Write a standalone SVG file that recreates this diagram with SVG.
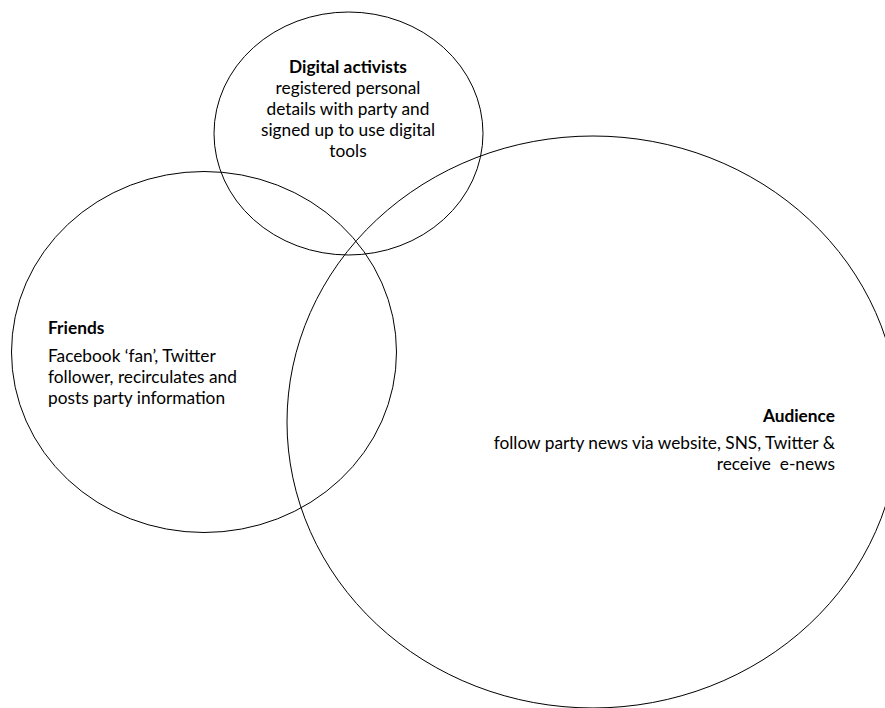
<svg xmlns="http://www.w3.org/2000/svg" width="885" height="708" viewBox="0 0 885 708">
<style>
.ring{fill:none;stroke:#000;stroke-width:1}
.t{font-family:Lato,"Open Sans","Liberation Sans",sans-serif;font-size:17.3px;fill:#000}
.b{font-weight:bold}
</style>
<rect width="885" height="708" fill="#fff"/>
<g id="connectors"></g>
<g id="digital-activists">
<ellipse class="ring" cx="348.5" cy="133.5" rx="134.5" ry="121.5"/>
<text class="t" text-anchor="middle"><tspan class="b" x="348" y="73">Digital activists</tspan><tspan x="348" y="94">registered personal</tspan><tspan x="348" y="115">details with party and</tspan><tspan x="348" y="136">signed up to use digital</tspan><tspan x="348" y="157">tools</tspan></text>
</g>
<g id="friends">
<ellipse class="ring" cx="204" cy="352" rx="192.5" ry="180.5"/>
<text class="t"><tspan class="b" x="48" y="334">Friends</tspan><tspan x="48" y="362">Facebook ‘fan’, Twitter</tspan><tspan x="48" y="383">follower, recirculates and</tspan><tspan x="48" y="404">posts party information</tspan></text>
</g>
<g id="audience">
<ellipse class="ring" cx="593" cy="422" rx="306" ry="286"/>
<text class="t" text-anchor="end"><tspan class="b" x="835" y="422">Audience</tspan><tspan x="835" y="449">follow party news via website, SNS, Twitter &amp;</tspan><tspan x="835" y="470">receive&#160; e-news</tspan></text>
</g>
</svg>
